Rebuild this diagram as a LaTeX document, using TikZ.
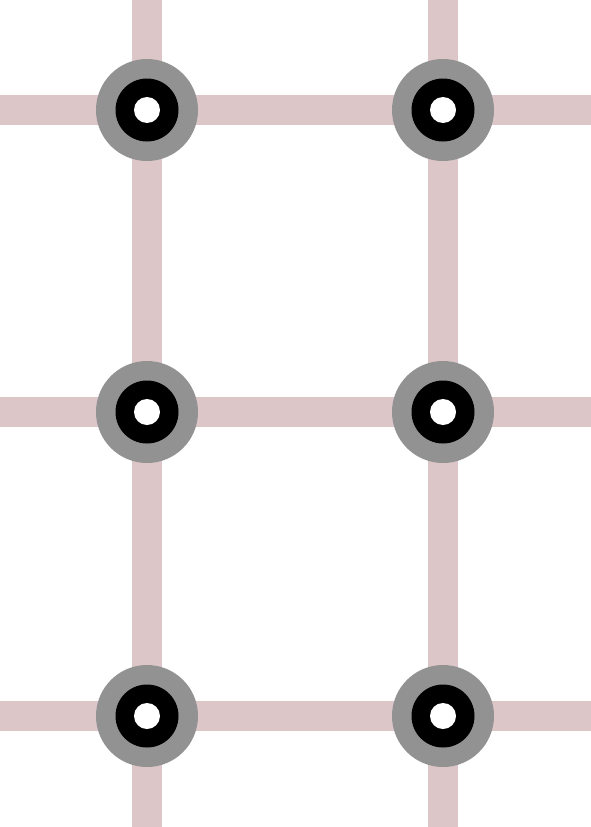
\documentclass[tikz,border=0pt]{standalone}
\usetikzlibrary{backgrounds}
\definecolor{wire}{RGB}{220,198,200}
\definecolor{ringgray}{RGB}{146,146,146}
\tikzset{
  joint/.style={circle, fill=ringgray, minimum size=102pt, inner sep=0pt,
    path picture={
      \fill[black] (path picture bounding box.center) circle (31.5pt);
      \fill[white] (path picture bounding box.center) circle (13pt);
    }},
  wireline/.style={draw=wire, line width=30pt}
}
\begin{document}
\begin{tikzpicture}[x=1pt,y=-1pt]
\useasboundingbox (0,0) rectangle (591,827);
% joints
\node[joint] (a1) at (147,110) {};
\node[joint] (b1) at (443,110) {};
\node[joint] (a2) at (147,412) {};
\node[joint] (b2) at (443,412) {};
\node[joint] (a3) at (147,716) {};
\node[joint] (b3) at (443,716) {};
% free ends
\coordinate (ta) at (147,0);
\coordinate (tb) at (443,0);
\coordinate (ba) at (147,827);
\coordinate (bb) at (443,827);
\coordinate (l1) at (0,110);
\coordinate (r1) at (591,110);
\coordinate (l2) at (0,412);
\coordinate (r2) at (591,412);
\coordinate (l3) at (0,716);
\coordinate (r3) at (591,716);
\begin{scope}[on background layer]
\draw[wireline] (ta) -- (a1.center) -- (a2.center) -- (a3.center) -- (ba);
\draw[wireline] (tb) -- (b1.center) -- (b2.center) -- (b3.center) -- (bb);
\draw[wireline] (l1) -- (a1.center) -- (b1.center) -- (r1);
\draw[wireline] (l2) -- (a2.center) -- (b2.center) -- (r2);
\draw[wireline] (l3) -- (a3.center) -- (b3.center) -- (r3);
\end{scope}
\end{tikzpicture}
\end{document}
